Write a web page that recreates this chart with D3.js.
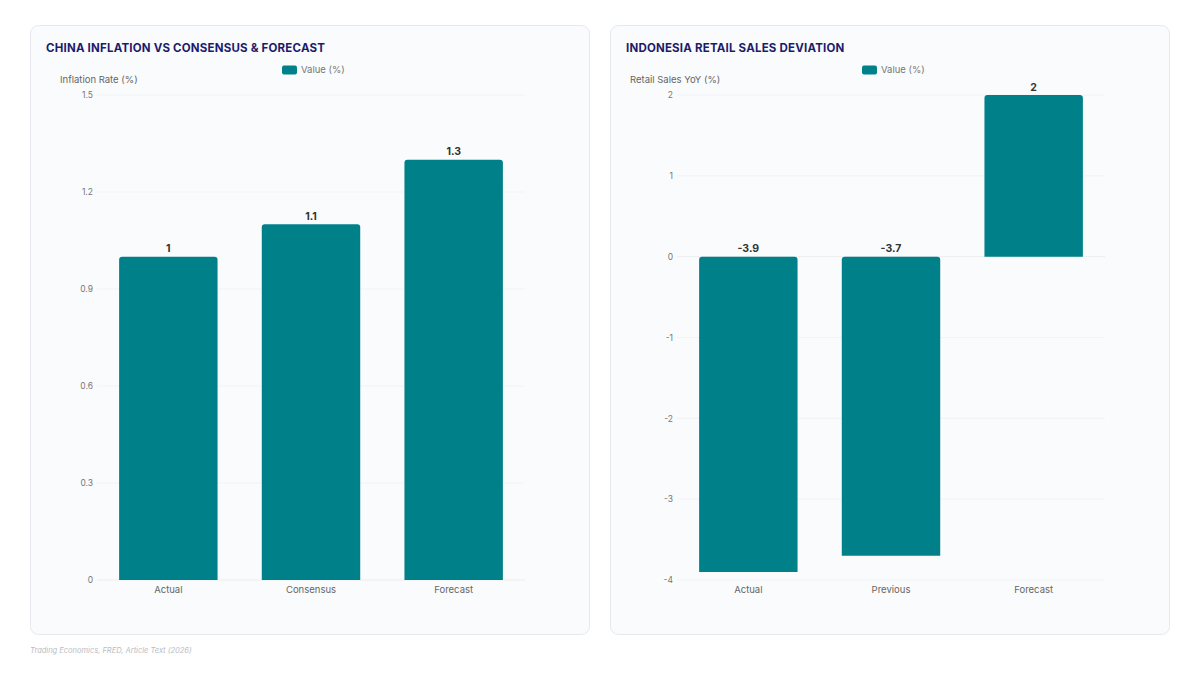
<!DOCTYPE html>
<html>
<head>
<meta charset="utf-8">
<script src="https://cdn.jsdelivr.net/npm/d3@7"></script>
<style>
  html, body { margin: 0; padding: 0; background: #ffffff; }
  svg { display: block; font-family: Inter, "Noto Sans", sans-serif; }
</style>
</head>
<body>
<svg id="chart" width="1200" height="675"></svg>
<script>
// ---- Data ----
const chinaTitle = "CHINA INFLATION VS CONSENSUS & FORECAST";
const chinaAxisTitle = "Inflation Rate (%)";
const chinaCategories = ["Actual", "Consensus", "Forecast"];
const chinaValues = [1, 1.1, 1.3];
const chinaTicks = [0, 0.3, 0.6, 0.9, 1.2, 1.5];

const indoTitle = "INDONESIA RETAIL SALES DEVIATION";
const indoAxisTitle = "Retail Sales YoY (%)";
const indoCategories = ["Actual", "Previous", "Forecast"];
const indoValues = [-3.9, -3.7, 2];
const indoTicks = [-4, -3, -2, -1, 0, 1, 2];

const legendLabel = "Value (%)";
const sourceText = "Trading Economics, FRED, Article Text (2026)";

// ---- Styles ----
const barColor = "#00818a";
const titleColor = "#1e1b6b";
const fmt = v => String(+v.toFixed(6));

const svg = d3.select("#chart");

function roundedTopBar(x, y, w, h, r) {
  r = Math.min(r, h, w / 2);
  return `M${x},${y + h}V${y + r}Q${x},${y} ${x + r},${y}H${x + w - r}Q${x + w},${y} ${x + w},${y + r}V${y + h}Z`;
}

function drawPanel(ox, title, axisTitle, axisTitleX, cats, vals, ticks) {
  const g = svg.append("g").attr("transform", `translate(${ox},0)`);
  const cardW = 560, cardTop = 25, cardH = 609;
  g.append("rect").attr("x", 0.5).attr("y", cardTop + 0.5).attr("width", cardW - 1).attr("height", cardH)
    .attr("rx", 8).attr("fill", "#f9fbfd").attr("stroke", "#e6e9ee");

  g.append("text").attr("x", 16).attr("y", 51.5).text(title)
    .attr("fill", titleColor).attr("font-size", 11.5).attr("font-weight", 700).attr("letter-spacing", 0.2);

  // legend
  const lg = g.append("g").attr("transform", `translate(${cardW / 2},70)`);
  lg.append("rect").attr("x", -28).attr("y", -4.5).attr("width", 15).attr("height", 9).attr("rx", 2).attr("fill", barColor);
  lg.append("text").attr("x", -9).attr("y", 0).attr("dy", "0.35em").text(legendLabel)
    .attr("fill", "#777").attr("font-size", 9.5);

  g.append("text").attr("x", axisTitleX).attr("y", 80).attr("dy", "0.35em").text(axisTitle)
    .attr("fill", "#666").attr("font-size", 9.5);

  const x0 = 67, x1 = 495, yTop = 95, yBot = 580;
  const y = d3.scaleLinear().domain([d3.min(ticks), d3.max(ticks)]).range([yBot, yTop]);
  const x = d3.scaleBand().domain(cats).range([x0, x1]).paddingInner(0.31).paddingOuter(0.155);

  // grid
  g.append("g").selectAll("line").data(ticks).join("line")
    .attr("x1", x0).attr("x2", x1).attr("y1", d => y(d)).attr("y2", d => y(d))
    .attr("stroke", d => d === 0 ? "#ebedf0" : "#f1f3f6").attr("stroke-width", 1);

  // y axis
  const yAxis = g.append("g").attr("transform", `translate(${x0 - 4},0)`)
    .call(d3.axisLeft(y).tickValues(ticks).tickSize(0).tickPadding(0).tickFormat(fmt));
  yAxis.select(".domain").remove();
  yAxis.selectAll("text").attr("fill", "#777").attr("font-size", 8.5).attr("font-family", "Inter, sans-serif");

  // x axis
  const xAxis = g.append("g").attr("transform", `translate(0,${yBot})`)
    .call(d3.axisBottom(x).tickSize(0).tickPadding(6));
  xAxis.select(".domain").remove();
  xAxis.selectAll("text").attr("fill", "#666").attr("font-size", 9.5).attr("font-family", "Inter, sans-serif");

  const data = cats.map((c, i) => ({ c, v: vals[i] }));
  g.append("g").selectAll("path").data(data).join("path")
    .attr("d", d => {
      const top = y(Math.max(0, d.v)), bot = y(Math.min(0, d.v));
      return roundedTopBar(x(d.c), top, x.bandwidth(), bot - top, 3);
    })
    .attr("fill", barColor);

  g.append("g").selectAll("text").data(data).join("text")
    .attr("x", d => x(d.c) + x.bandwidth() / 2)
    .attr("y", d => y(Math.max(0, d.v)) - 8)
    .attr("dy", "0.35em")
    .attr("text-anchor", "middle")
    .attr("fill", "#333").attr("font-size", 10.5).attr("font-weight", 700)
    .text(d => fmt(d.v));
}

drawPanel(30, chinaTitle, chinaAxisTitle, 30, chinaCategories, chinaValues, chinaTicks);
drawPanel(610, indoTitle, indoAxisTitle, 20, indoCategories, indoValues, indoTicks);

svg.append("text").attr("x", 30).attr("y", 650).attr("dy", "0.35em").text(sourceText)
  .attr("fill", "#b8bcc4").attr("font-size", 7.5).attr("font-style", "italic");
</script>
</body>
</html>
